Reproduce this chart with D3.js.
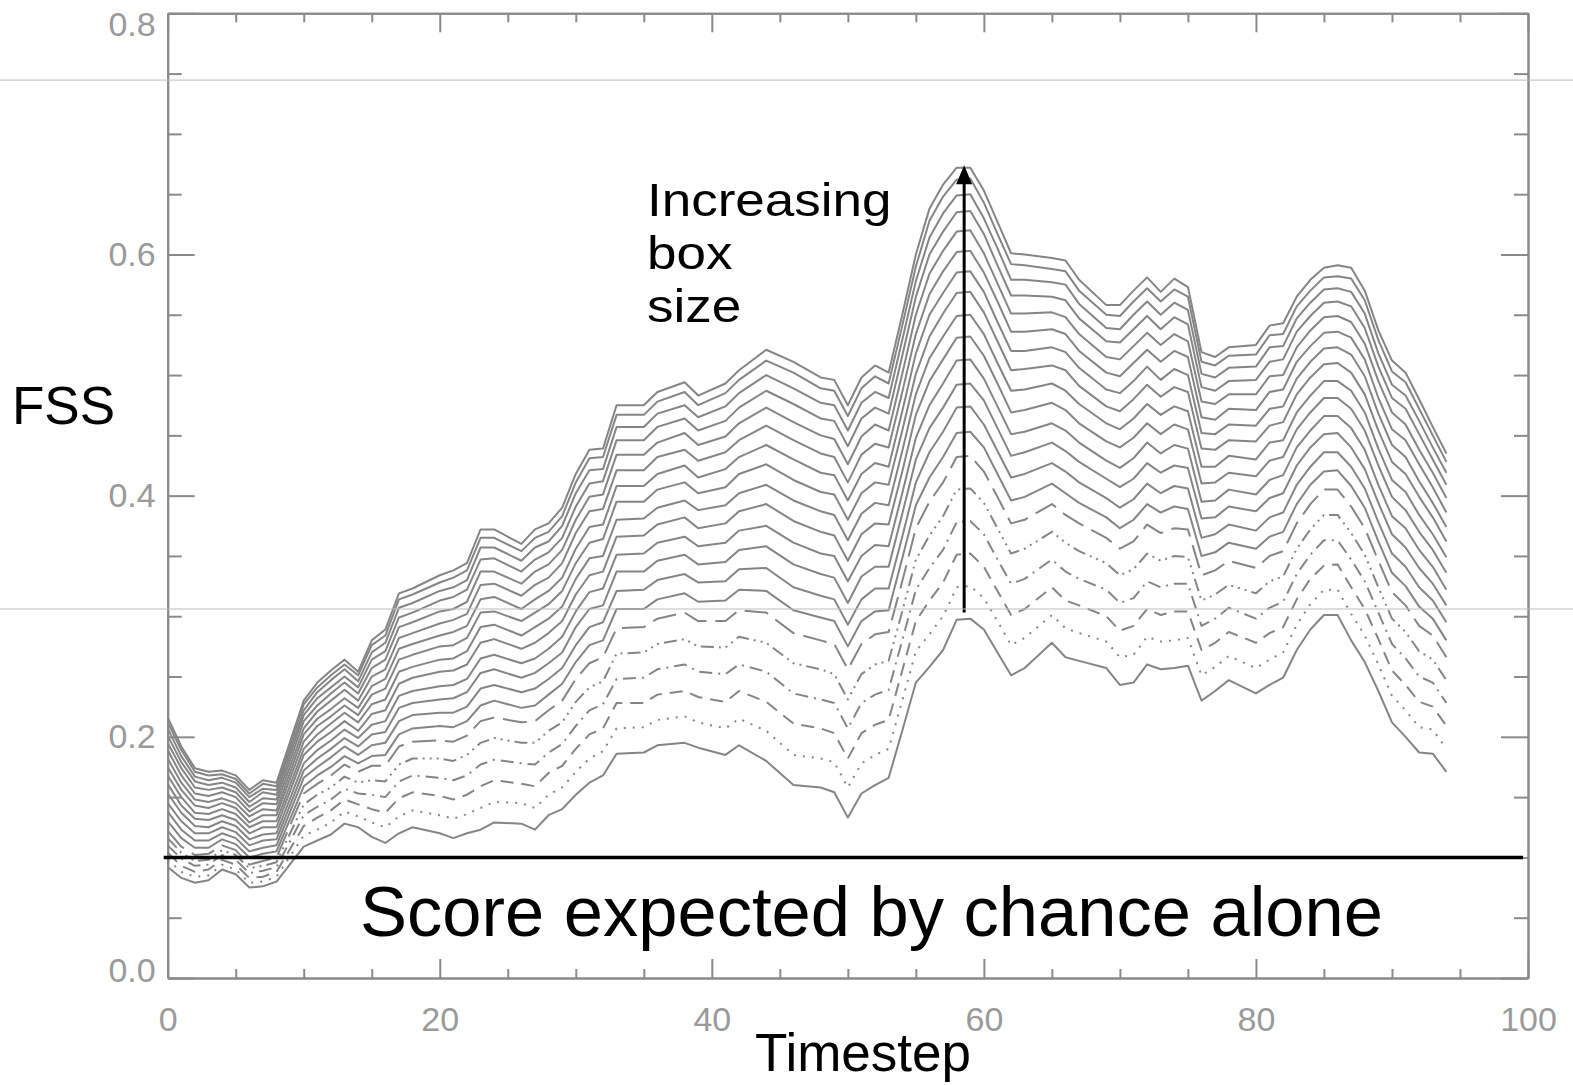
<!DOCTYPE html>
<html>
<head>
<meta charset="utf-8">
<script src="https://cdn.jsdelivr.net/npm/d3@7/dist/d3.min.js"></script>
<style>
  html, body { margin: 0; padding: 0; background: #fff; }
  svg { display: block; font-family: "Liberation Sans", Arial, Helvetica, sans-serif; }
</style>
</head>
<body>
<svg id="chart" width="1573" height="1085"></svg>
<script>
// ─── data ──────────────────────────────────────────────────────
// timesteps at which the curves have a vertex
const timesteps = [0,1,2,3,4,5,6,7,8,10,11,12,13,14,15,16,17,18,20,21,22,23,24,26,27,28,29,30,31,32,33,
  35,36,38,39,41,42,44,46,48,49,50,51,52,53,54,55,56,57,58,59,60,61,62,63,65,66,67,69,70,71,72,73,74,75,
  76,77,78,80,81,82,83,84,85,86,87,88,89,90,91,92,93,94];

// FSS at each timestep, one value per box size (smallest box first, 20 boxes)
const fssRows = [
  [.092,.098,.104,.110,.116,.122,.130,.138,.145,.153,.161,.168,.175,.182,.189,.195,.201,.207,.212,.216],
  [.083,.088,.093,.099,.104,.109,.116,.123,.130,.137,.143,.150,.156,.162,.168,.174,.179,.184,.189,.192],
  [.079,.084,.088,.093,.097,.102,.108,.114,.120,.126,.132,.137,.143,.148,.153,.158,.163,.167,.171,.174],
  [.081,.085,.090,.094,.098,.103,.108,.114,.120,.125,.131,.136,.141,.146,.151,.156,.160,.164,.168,.171],
  [.090,.094,.098,.102,.106,.110,.115,.120,.125,.130,.135,.140,.145,.149,.154,.158,.162,.166,.169,.172],
  [.086,.090,.094,.098,.102,.106,.111,.116,.121,.126,.131,.136,.141,.145,.150,.154,.158,.162,.165,.168],
  [.075,.079,.083,.087,.091,.094,.100,.105,.110,.115,.120,.125,.129,.134,.138,.142,.146,.150,.153,.156],
  [.076,.080,.084,.089,.093,.097,.103,.108,.114,.119,.125,.130,.135,.140,.145,.149,.154,.157,.161,.164],
  [.080,.084,.088,.092,.096,.100,.105,.110,.115,.120,.125,.130,.135,.139,.144,.148,.152,.156,.159,.162],
  [.109,.118,.126,.135,.144,.153,.159,.166,.172,.178,.185,.190,.196,.202,.207,.213,.218,.222,.227,.230],
  [.114,.123,.133,.142,.152,.161,.168,.175,.182,.189,.196,.202,.209,.215,.221,.226,.232,.237,.241,.245],
  [.119,.129,.139,.148,.158,.168,.175,.183,.190,.197,.204,.211,.217,.223,.230,.236,.241,.247,.251,.255],
  [.128,.138,.148,.157,.167,.177,.184,.192,.199,.206,.213,.220,.226,.232,.239,.245,.250,.256,.260,.264],
  [.125,.134,.144,.153,.162,.171,.178,.185,.192,.199,.205,.212,.218,.224,.230,.236,.241,.246,.251,.254],
  [.117,.129,.140,.152,.164,.176,.184,.193,.202,.210,.219,.227,.235,.242,.250,.257,.264,.270,.276,.280],
  [.112,.125,.137,.150,.163,.176,.185,.195,.204,.213,.222,.231,.240,.248,.256,.264,.271,.278,.284,.289],
  [.120,.134,.149,.163,.177,.192,.202,.213,.224,.234,.244,.254,.264,.273,.282,.291,.299,.307,.314,.319],
  [.125,.139,.154,.168,.182,.196,.207,.218,.228,.238,.249,.258,.268,.277,.286,.295,.303,.311,.318,.323],
  [.120,.135,.151,.166,.182,.197,.209,.220,.231,.242,.254,.264,.275,.284,.294,.304,.313,.321,.328,.334],
  [.116,.132,.148,.164,.180,.196,.208,.220,.232,.243,.255,.265,.276,.287,.297,.306,.316,.324,.332,.338],
  [.120,.136,.152,.168,.185,.201,.213,.225,.237,.248,.260,.271,.282,.292,.302,.312,.322,.330,.338,.344],
  [.123,.141,.159,.177,.195,.213,.226,.240,.253,.265,.278,.291,.303,.314,.326,.337,.347,.357,.365,.372],
  [.129,.146,.164,.181,.199,.216,.230,.243,.256,.268,.281,.293,.304,.316,.327,.337,.348,.357,.365,.372],
  [.128,.145,.161,.178,.195,.212,.224,.237,.249,.261,.273,.284,.296,.306,.317,.327,.337,.346,.354,.360],
  [.123,.141,.159,.177,.195,.213,.226,.240,.253,.265,.278,.291,.303,.314,.326,.337,.347,.357,.365,.372],
  [.135,.152,.170,.187,.205,.222,.235,.248,.261,.273,.286,.298,.310,.321,.332,.343,.353,.362,.370,.377],
  [.140,.158,.176,.194,.212,.230,.244,.257,.270,.283,.296,.308,.321,.332,.344,.355,.365,.375,.383,.390],
  [.152,.171,.190,.209,.229,.248,.262,.276,.291,.304,.318,.331,.344,.356,.369,.380,.391,.402,.411,.418],
  [.162,.182,.202,.222,.241,.261,.276,.291,.306,.320,.334,.348,.361,.374,.387,.399,.410,.421,.431,.438],
  [.168,.188,.207,.227,.246,.266,.280,.295,.309,.323,.337,.350,.364,.376,.389,.401,.412,.422,.432,.439],
  [.186,.207,.228,.248,.269,.290,.306,.321,.337,.351,.366,.380,.395,.408,.421,.434,.446,.457,.467,.475],
  [.187,.208,.228,.249,.270,.291,.306,.322,.337,.352,.367,.381,.395,.408,.421,.434,.446,.457,.467,.475],
  [.193,.214,.235,.256,.277,.298,.314,.330,.346,.361,.376,.390,.405,.418,.432,.444,.457,.468,.478,.486],
  [.195,.217,.238,.260,.281,.303,.319,.335,.351,.366,.382,.396,.411,.425,.438,.452,.464,.475,.486,.494],
  [.191,.212,.233,.254,.275,.296,.312,.328,.343,.358,.373,.388,.402,.415,.429,.442,.454,.465,.475,.483],
  [.185,.207,.229,.252,.274,.296,.313,.329,.345,.361,.377,.392,.407,.422,.436,.449,.462,.474,.485,.493],
  [.193,.215,.238,.260,.283,.305,.322,.339,.355,.371,.387,.402,.418,.432,.446,.460,.473,.485,.496,.504],
  [.180,.205,.229,.254,.278,.303,.321,.340,.358,.375,.393,.409,.426,.442,.458,.473,.487,.500,.512,.521],
  [.160,.185,.211,.236,.261,.286,.305,.324,.343,.361,.379,.396,.413,.430,.446,.461,.476,.489,.502,.511],
  [.158,.182,.207,.231,.256,.280,.299,.317,.335,.352,.370,.387,.403,.419,.435,.450,.464,.477,.489,.498],
  [.154,.179,.203,.228,.252,.277,.296,.314,.332,.350,.367,.384,.401,.417,.432,.447,.462,.475,.487,.496],
  [.133,.158,.182,.207,.231,.256,.275,.293,.311,.329,.346,.363,.380,.396,.411,.426,.441,.454,.466,.475],
  [.153,.178,.203,.228,.252,.277,.296,.314,.333,.350,.368,.385,.402,.418,.434,.449,.464,.477,.489,.498],
  [.160,.185,.210,.235,.260,.285,.304,.323,.341,.359,.377,.394,.411,.427,.443,.459,.473,.486,.499,.508],
  [.166,.190,.214,.239,.263,.287,.305,.323,.341,.358,.376,.392,.409,.424,.440,.454,.468,.481,.493,.502],
  [.205,.230,.255,.280,.304,.329,.348,.366,.385,.402,.420,.437,.454,.470,.486,.501,.516,.529,.541,.550],
  [.245,.271,.296,.322,.347,.373,.392,.411,.430,.448,.467,.484,.501,.518,.534,.550,.565,.578,.590,.600],
  [.258,.285,.313,.340,.367,.395,.415,.436,.456,.475,.495,.514,.532,.550,.567,.584,.600,.614,.628,.638],
  [.272,.300,.328,.355,.383,.411,.432,.453,.473,.493,.513,.532,.551,.568,.586,.603,.619,.634,.648,.658],
  [.297,.324,.351,.378,.405,.432,.452,.473,.492,.512,.531,.549,.568,.585,.602,.619,.635,.649,.662,.672],
  [.298,.325,.352,.379,.406,.433,.453,.474,.493,.513,.532,.550,.569,.586,.603,.620,.636,.650,.663,.672],
  [.289,.315,.341,.368,.394,.420,.440,.459,.479,.497,.516,.534,.552,.569,.585,.601,.617,.630,.643,.653],
  [.270,.296,.321,.347,.373,.399,.418,.437,.456,.474,.493,.510,.528,.544,.561,.576,.591,.605,.617,.627],
  [.251,.276,.301,.327,.352,.377,.396,.415,.433,.451,.469,.487,.504,.520,.536,.551,.566,.579,.592,.601],
  [.257,.282,.306,.331,.356,.380,.399,.418,.436,.453,.471,.488,.505,.520,.536,.551,.566,.579,.591,.600],
  [.278,.301,.324,.347,.370,.393,.410,.427,.444,.460,.477,.493,.508,.523,.538,.552,.565,.577,.588,.597],
  [.266,.290,.313,.337,.361,.384,.402,.420,.437,.454,.471,.487,.504,.519,.534,.548,.562,.575,.586,.595],
  [.263,.286,.309,.331,.354,.377,.394,.411,.428,.444,.460,.476,.491,.506,.520,.534,.547,.559,.570,.579],
  [.257,.279,.300,.322,.344,.365,.382,.398,.414,.429,.445,.460,.474,.488,.502,.515,.528,.539,.550,.558],
  [.243,.266,.288,.311,.334,.356,.373,.390,.407,.423,.440,.455,.470,.485,.499,.513,.527,.538,.549,.558],
  [.245,.268,.292,.315,.339,.362,.380,.397,.414,.431,.448,.464,.480,.495,.510,.524,.538,.550,.561,.570],
  [.260,.283,.306,.329,.352,.376,.393,.410,.427,.444,.460,.476,.492,.507,.521,.535,.549,.561,.572,.581],
  [.256,.279,.301,.324,.346,.369,.386,.402,.419,.435,.451,.467,.482,.496,.511,.525,.538,.550,.561,.569],
  [.257,.280,.304,.327,.350,.373,.391,.408,.425,.442,.459,.474,.490,.505,.520,.534,.548,.560,.571,.580],
  [.259,.282,.304,.327,.349,.372,.389,.406,.423,.439,.455,.470,.486,.500,.515,.528,.542,.554,.565,.573],
  [.230,.251,.272,.292,.313,.334,.350,.365,.381,.395,.410,.424,.439,.452,.465,.478,.490,.501,.511,.519],
  [.238,.258,.278,.298,.318,.338,.353,.368,.382,.396,.411,.424,.438,.451,.463,.476,.487,.498,.508,.515],
  [.247,.267,.287,.307,.326,.346,.361,.376,.391,.405,.419,.433,.446,.459,.472,.484,.495,.506,.516,.523],
  [.236,.257,.278,.298,.319,.340,.356,.371,.387,.401,.416,.430,.445,.458,.471,.484,.496,.507,.517,.525],
  [.243,.264,.286,.307,.329,.350,.366,.382,.398,.413,.429,.444,.458,.472,.486,.499,.511,.523,.533,.541],
  [.249,.270,.291,.312,.333,.354,.370,.386,.402,.417,.432,.446,.461,.474,.488,.500,.513,.524,.534,.543],
  [.272,.293,.314,.335,.356,.377,.393,.409,.425,.440,.455,.469,.484,.497,.511,.523,.536,.547,.557,.565],
  [.289,.310,.331,.351,.372,.393,.409,.424,.440,.454,.469,.483,.498,.511,.524,.537,.549,.560,.570,.579],
  [.301,.322,.342,.363,.384,.405,.420,.436,.451,.466,.481,.495,.509,.522,.535,.548,.560,.571,.581,.589],
  [.301,.322,.343,.363,.384,.405,.421,.436,.452,.466,.481,.495,.510,.523,.536,.549,.561,.572,.582,.591],
  [.280,.302,.324,.347,.369,.391,.408,.424,.440,.456,.472,.487,.502,.517,.531,.544,.557,.569,.580,.589],
  [.262,.284,.306,.329,.351,.373,.390,.406,.422,.438,.454,.469,.484,.499,.513,.526,.539,.551,.562,.570],
  [.238,.260,.281,.303,.324,.346,.362,.378,.394,.409,.425,.439,.454,.468,.481,.495,.507,.518,.529,.537],
  [.212,.234,.255,.277,.298,.320,.336,.352,.368,.383,.399,.413,.428,.442,.455,.469,.481,.492,.503,.512],
  [.200,.222,.243,.265,.287,.309,.325,.341,.357,.373,.388,.403,.418,.432,.446,.459,.472,.483,.494,.502],
  [.187,.208,.229,.250,.271,.292,.308,.324,.340,.355,.370,.384,.399,.412,.426,.438,.451,.462,.472,.480],
  [.186,.206,.225,.245,.264,.284,.298,.313,.327,.341,.355,.368,.382,.394,.407,.419,.430,.440,.450,.457],
  [.171,.190,.209,.228,.247,.266,.280,.295,.309,.322,.336,.349,.362,.374,.386,.398,.409,.419,.428,.435]
];

// line style for the smallest boxes (IDL linestyles 0..5), the rest are solid
const lineStyles = ['solid', 'dotted', 'dashed', 'dashdot', 'dashdotdotdot', 'longdash'];

const yMajor = [0, 0.2, 0.4, 0.6, 0.8];
const yMinor = [0.05, 0.1, 0.15, 0.25, 0.3, 0.35, 0.45, 0.5, 0.55, 0.65, 0.7, 0.75];
const xMajor = [0, 20, 40, 60, 80, 100];
const xMinor = [5, 10, 15, 25, 30, 35, 45, 50, 55, 65, 70, 75, 85, 90, 95];

const chanceScore = 0.1;
const arrowT = 58.55, arrowFrom = 0.303, arrowTo = 0.674;
const guideValues = [0.7446, 0.306];   // faint full-width rules on the slide
const arrowNote = ['Increasing', 'box', 'size'];

// ─── drawing ───────────────────────────────────────────────────
const svg = d3.select('#chart');
const W = 1573, H = 1085;
svg.append('rect').attr('width', W).attr('height', H).attr('fill', '#fff');

const x = d3.scaleLinear().domain([0, 100]).range([167.7, 1528]);
const y = d3.scaleLinear().domain([0, 0.8]).range([978, 13.3]);

const AXIS = '#8a8a8a';
const DASH = {
  solid: null,
  dotted: '2 7',
  dashed: '13 8',
  dashdot: '13 6 2 6',
  dashdotdotdot: '13 5 2 5 2 5 2 5',
  longdash: '24 9'
};

// axes: box with inward ticks on all four sides
function styleAxis(g) {
  g.select('.domain').attr('stroke', AXIS).attr('stroke-width', 2);
  g.selectAll('.tick line').attr('stroke', AXIS).attr('stroke-width', 2);
  g.selectAll('.tick text')
    .attr('fill', '#9a9a9a')
    .attr('font-size', 34)
    .attr('font-family', '"Liberation Sans", Arial, sans-serif');
}

const left = svg.append('g').attr('transform', `translate(${x(0)},0)`)
  .call(d3.axisLeft(y).tickValues(yMajor).tickSize(-27).tickSizeOuter(0)
    .tickPadding(12).tickFormat(d3.format('.1f')))
  .call(styleAxis);
// keep the end labels inside the frame like the original
left.selectAll('.tick text')
  .attr('y', d => Math.min(Math.max(y(d), 25), 971) - y(d));
svg.append('g').attr('transform', `translate(${x(0)},0)`)
  .call(d3.axisLeft(y).tickValues(yMinor).tickSize(-14).tickSizeOuter(0).tickFormat(''))
  .call(styleAxis);

svg.append('g').attr('transform', `translate(${x(100)},0)`)
  .call(d3.axisRight(y).tickValues(yMajor).tickSize(-27).tickSizeOuter(0).tickFormat(''))
  .call(styleAxis);
svg.append('g').attr('transform', `translate(${x(100)},0)`)
  .call(d3.axisRight(y).tickValues(yMinor).tickSize(-14).tickSizeOuter(0).tickFormat(''))
  .call(styleAxis);

svg.append('g').attr('transform', `translate(0,${y(0)})`)
  .call(d3.axisBottom(x).tickValues(xMajor).tickSize(-19).tickSizeOuter(0)
    .tickPadding(29).tickFormat(d3.format('d')))
  .call(styleAxis);
svg.append('g').attr('transform', `translate(0,${y(0)})`)
  .call(d3.axisBottom(x).tickValues(xMinor).tickSize(-9).tickSizeOuter(0).tickFormat(''))
  .call(styleAxis);

svg.append('g').attr('transform', `translate(0,${y(0.8)})`)
  .call(d3.axisTop(x).tickValues(xMajor).tickSize(-19).tickSizeOuter(0).tickFormat(''))
  .call(styleAxis);
svg.append('g').attr('transform', `translate(0,${y(0.8)})`)
  .call(d3.axisTop(x).tickValues(xMinor).tickSize(-9).tickSizeOuter(0).tickFormat(''))
  .call(styleAxis);

// FSS curves, one per box size
const nBoxes = fssRows[0].length;
const series = d3.range(nBoxes).map(k => timesteps.map((t, i) => [t, fssRows[i][k]]));
const line = d3.line().x(d => x(d[0])).y(d => y(d[1]));

svg.append('g').attr('class', 'curves')
  .selectAll('path')
  .data(series)
  .join('path')
  .attr('d', line)
  .attr('fill', 'none')
  .attr('stroke', '#858585')
  .attr('stroke-width', 2)
  .attr('stroke-linejoin', 'round')
  .attr('stroke-dasharray', (d, k) => DASH[lineStyles[k] || 'solid']);

// chance level
svg.append('line')
  .attr('x1', x(0) - 4).attr('x2', x(100) - 5)
  .attr('y1', y(chanceScore)).attr('y2', y(chanceScore))
  .attr('stroke', '#000').attr('stroke-width', 3.5);

// arrow: increasing box size
const ax = x(arrowT);
svg.append('line')
  .attr('x1', ax).attr('x2', ax)
  .attr('y1', y(arrowFrom)).attr('y2', y(arrowTo) + 14)
  .attr('stroke', '#000').attr('stroke-width', 3);
svg.append('path')
  .attr('d', `M${ax},${y(arrowTo)} L${ax - 8},${y(arrowTo) + 19} L${ax + 8},${y(arrowTo) + 19} Z`)
  .attr('fill', '#000');

// faint slide rules
svg.selectAll('line.guide')
  .data(guideValues)
  .join('line')
  .attr('class', 'guide')
  .attr('x1', 0).attr('x2', W)
  .attr('y1', d => y(d)).attr('y2', d => y(d))
  .attr('stroke', '#bdbdbd').attr('stroke-width', 1);

// texts
const txt = (s, px, py, size, anchor) => svg.append('text')
  .attr('x', px).attr('y', py)
  .attr('font-size', size)
  .attr('text-anchor', anchor || 'start')
  .attr('fill', '#000')
  .text(s);

txt('FSS', 12, 424, 53);
txt('Score expected by chance alone', 360, 936, 70.5);
txt('Timestep', 863, 1071, 53, 'middle');

// note next to the arrow: the lines sit tight, so use a smaller em
// and stretch each line to the original width
arrowNote.forEach((s, i) => {
  const t = txt(s, 647, 216 + i * 53, 47);
  const w = t.node().getComputedTextLength();
  t.attr('textLength', w * 53 / 47).attr('lengthAdjust', 'spacingAndGlyphs');
});
</script>
</body>
</html>
